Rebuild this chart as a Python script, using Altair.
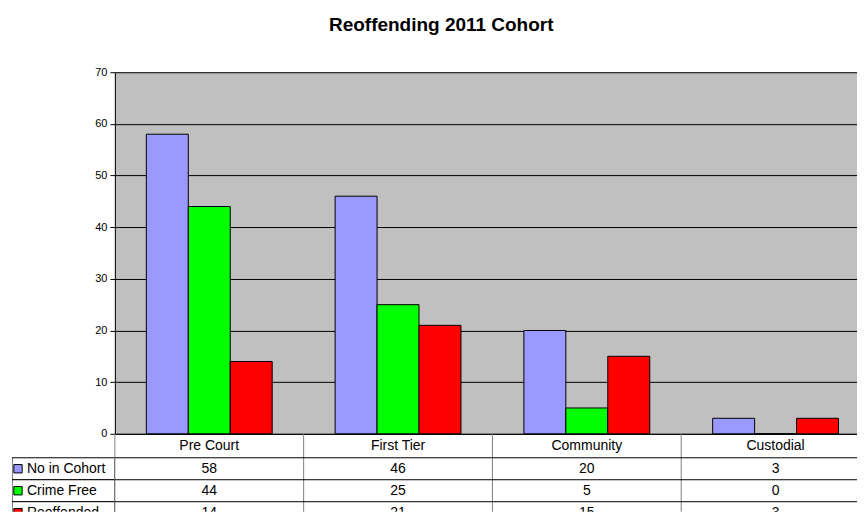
import altair as alt
import pandas as pd

categories = ["Pre Court", "First Tier", "Community", "Custodial"]
series = ["No in Cohort", "Crime Free", "Reoffended"]
no_in_cohort = [58, 46, 20, 3]
crime_free = [44, 25, 5, 0]
reoffended = [14, 21, 15, 3]
colors = ["#9999FF", "#00FF00", "#FF0000"]
y_ticks = [0, 10, 20, 30, 40, 50, 60, 70]
title_text = "Reoffending 2011 Cohort"

FONT = "Liberation Sans"

rows = []
for s, vals in zip(series, [no_in_cohort, crime_free, reoffended]):
    for c, v in zip(categories, vals):
        rows.append({"category": c, "series": s, "value": v, "text": str(v)})
df = pd.DataFrame(rows)
ldf = pd.DataFrame({"row": series})
cdf = pd.DataFrame({"category": categories})

PLOT_W = 756       # four category bands; the right edge is cut off by the window
PLOT_H = 362
LEG_W = 103
HEAD_H = 24        # header row (category labels)
ROW_H = 22
TABLE_H = 78       # visible part (bottom row is cut off by the window)

xscale = alt.Scale(domain=categories, paddingInner=0, paddingOuter=0)
rscale = alt.Scale(domain=series, paddingInner=0, paddingOuter=0,
                   range=[HEAD_H, HEAD_H + ROW_H * len(series)])

bars = alt.Chart(df).mark_bar(stroke="black", strokeWidth=1).encode(
    x=alt.X("category:N", sort=categories, scale=xscale,
            axis=alt.Axis(title=None, ticks=False, domain=True, domainColor="black",
                          labelFont=FONT, labelFontSize=14, labelColor="black",
                          labelAngle=0, labelBaseline="middle",
                          labelPadding=HEAD_H / 2, labelOverlap=False)),
    xOffset=alt.XOffset("series:N", sort=series,
                        scale=alt.Scale(domain=series, paddingInner=0, paddingOuter=0.75)),
    y=alt.Y("value:Q", scale=alt.Scale(domain=[0, 70], nice=False),
            axis=alt.Axis(values=y_ticks, title=None, grid=True, gridColor="black",
                          gridWidth=1, gridOpacity=1, domainColor="black", tickColor="black",
                          tickSize=5, labelFontSize=11, labelFont=FONT, labelColor="black",
                          labelPadding=3)),
    color=alt.Color("series:N", sort=series,
                    scale=alt.Scale(domain=series, range=colors), legend=None),
).properties(width=PLOT_W, height=PLOT_H,
             view=alt.ViewBackground(fill="#C0C0C0", stroke=None))

spacer = alt.Chart(pd.DataFrame({"a": [0]})).mark_text(text="").encode(
    x=alt.value(0), y=alt.value(0)
).properties(width=LEG_W, height=PLOT_H, view=alt.ViewBackground(stroke=None))

vlines = alt.Chart(cdf).mark_rule(color="#808080", strokeWidth=1).encode(
    x=alt.X("category:N", sort=categories, scale=xscale, bandPosition=0, axis=None)
)
hlines = alt.Chart(ldf).mark_rule(color="black", strokeWidth=1).encode(
    y=alt.Y("row:N", sort=series, scale=rscale, bandPosition=0, axis=None)
)
cells = alt.Chart(df).mark_text(font=FONT, fontSize=14, color="black", baseline="middle",
                                clip=True).encode(
    x=alt.X("category:N", sort=categories, scale=xscale, axis=None),
    y=alt.Y("series:N", sort=series, scale=rscale, axis=None),
    text="text:N",
)
table = alt.layer(vlines, hlines, cells).properties(
    width=PLOT_W, height=TABLE_H, view=alt.ViewBackground(stroke=None))

yleg = alt.Y("row:N", sort=series, scale=rscale, axis=None)

leg_box = alt.Chart(ldf).mark_rect(fill="white", stroke="black", strokeWidth=1, clip=True).encode(
    x=alt.value(0), x2=alt.value(LEG_W), y=yleg
)
leg_sq = alt.Chart(ldf).mark_square(size=70, stroke="black", strokeWidth=1, opacity=1,
                                    clip=True).encode(
    x=alt.value(6), y=yleg,
    fill=alt.Fill("row:N", scale=alt.Scale(domain=series, range=colors), legend=None),
)
leg_txt = alt.Chart(ldf).mark_text(font=FONT, fontSize=14, color="black", align="left",
                                   baseline="middle", clip=True).encode(
    x=alt.value(15), y=yleg, text="row:N"
)
legend = alt.layer(leg_box, leg_sq, leg_txt).properties(
    width=LEG_W, height=TABLE_H, view=alt.ViewBackground(stroke=None))

chart = alt.concat(spacer, bars, legend, table, columns=2, spacing=0, bounds="flush").properties(
    title=alt.Title(title_text, fontSize=19, font=FONT, fontWeight="bold", anchor="middle",
                    color="black", offset=31),
    padding={"left": 4, "top": 8, "right": -14, "bottom": 0},
    background="white",
).configure_view(stroke=None)

chart.save("out.html", embed_options={"renderer": "svg", "actions": False})
